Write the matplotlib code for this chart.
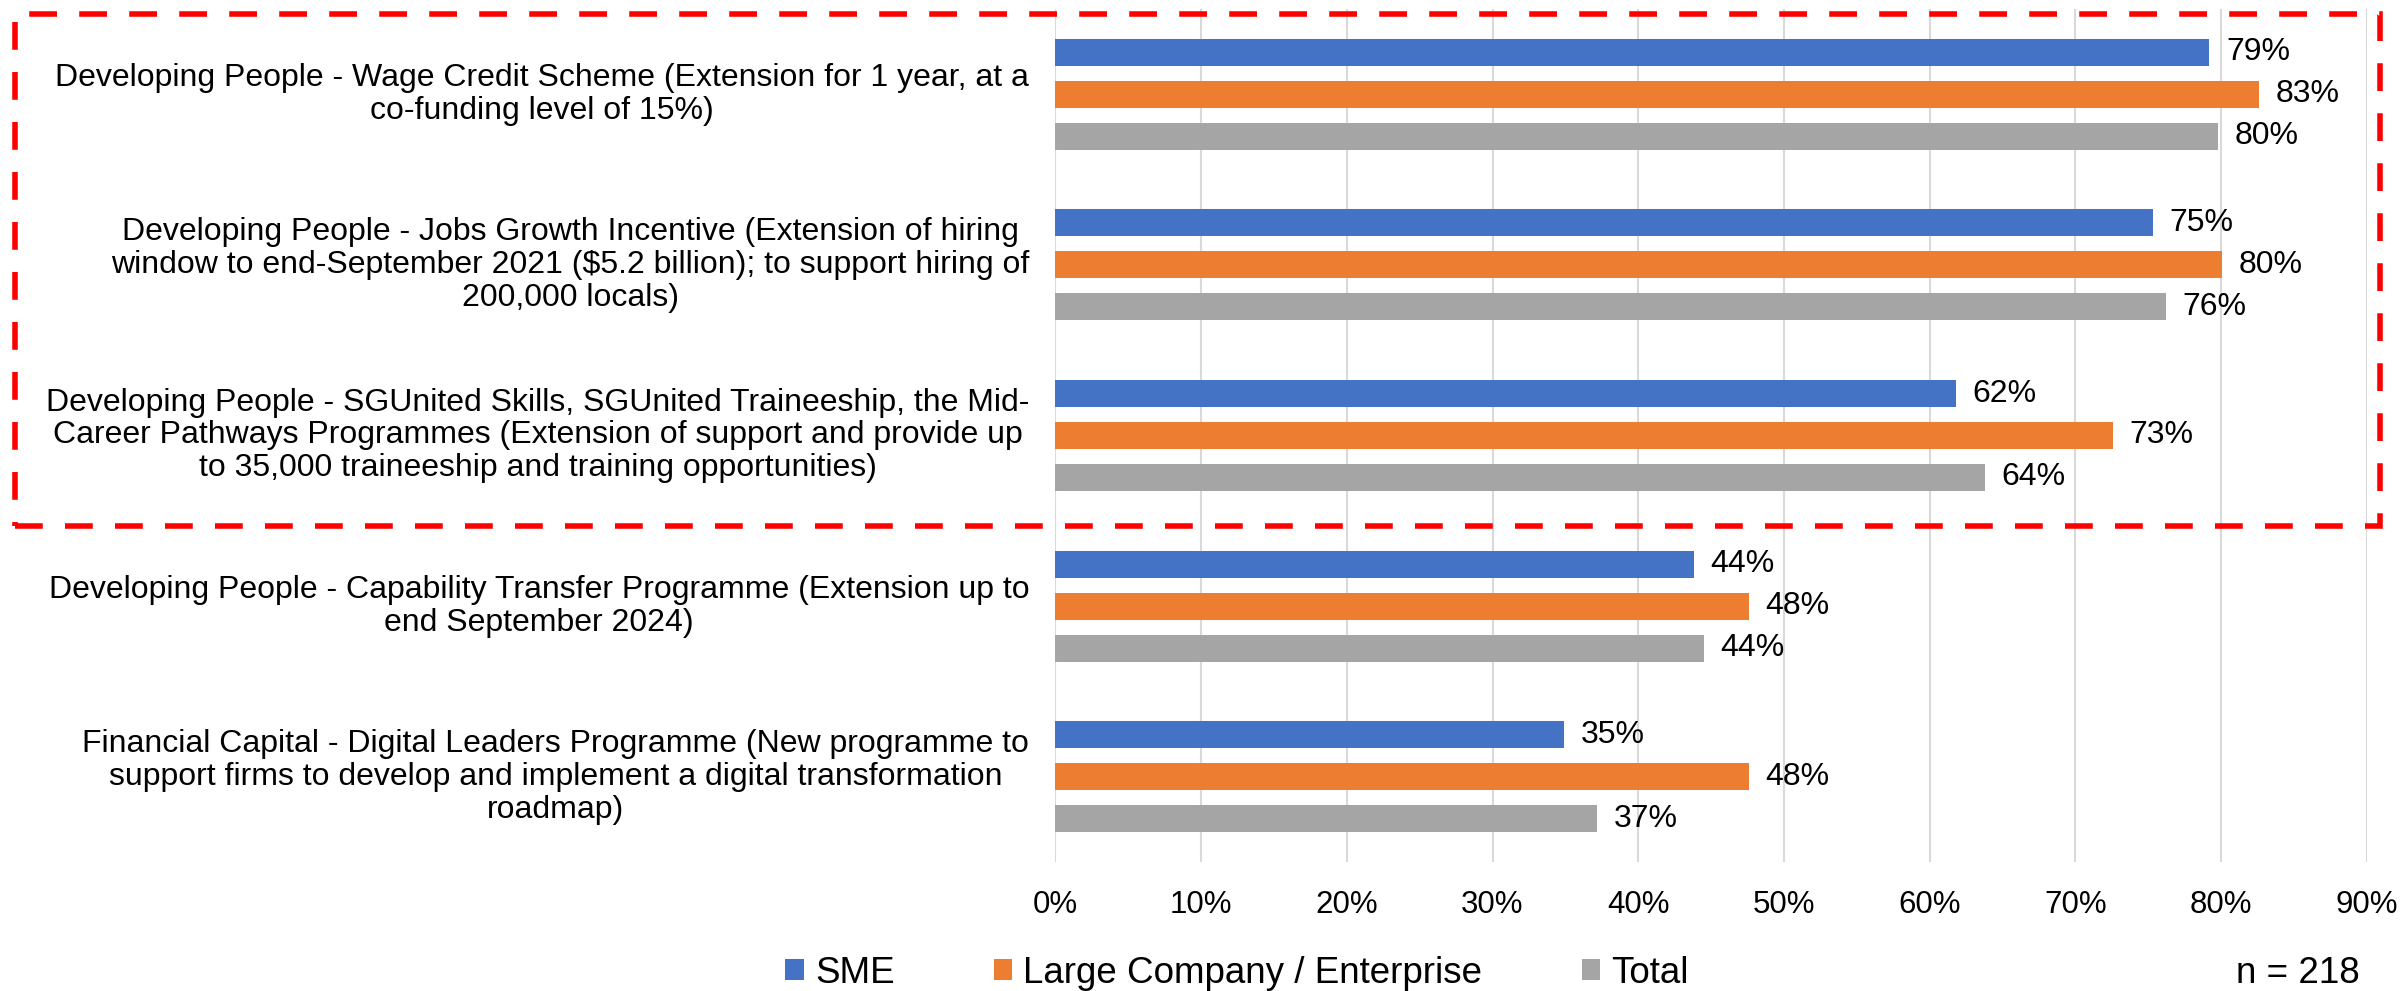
import matplotlib.pyplot as plt
import numpy as np
from matplotlib.patches import Rectangle, Patch

plt.rcParams['font.family'] = ['Liberation Sans', 'DejaVu Sans']

# ---------------- datos ----------------
categories = [
    "Developing People - Wage Credit Scheme (Extension for 1 year, at a\nco-funding level of 15%)",
    "Developing People - Jobs Growth Incentive (Extension of hiring\nwindow to end-September 2021 (\\$5.2 billion); to support hiring of\n200,000 locals)",
    "Developing People - SGUnited Skills, SGUnited Traineeship, the Mid-\nCareer Pathways Programmes (Extension of support and provide up\nto 35,000 traineeship and training opportunities)",
    "Developing People - Capability Transfer Programme (Extension up to\nend September 2024)",
    "Financial Capital - Digital Leaders Programme (New programme to\nsupport firms to develop and implement a digital transformation\nroadmap)",
]
sme = [0.792, 0.753, 0.618, 0.438, 0.349]
large = [0.826, 0.801, 0.726, 0.476, 0.476]
total = [0.798, 0.762, 0.638, 0.445, 0.372]

series_names = ['SME', 'Large Company / Enterprise', 'Total']
colors = ['#4472C4', '#ED7D31', '#A5A5A5']
xticks = [0, 0.1, 0.2, 0.3, 0.4, 0.5, 0.6, 0.7, 0.8, 0.9]
n_label = 'n = 218'

# ---------------- figura ----------------
fig = plt.figure(figsize=(24.02, 9.91), dpi=100)
ax = fig.add_axes([0.4394, 0.1302, 0.5459, 0.8607])

y = np.arange(len(categories))
offset = 0.246
bar_h = 0.158
for k, (vals, col) in enumerate(zip([sme, large, total], colors)):
    pos = y + (k - 1) * offset
    ax.barh(pos, vals, height=bar_h, color=col, zorder=3)
    for p, v in zip(pos, vals):
        ax.annotate(f"{v:.0%}", xy=(v, p), xytext=(12, 0), textcoords='offset points',
                    va='center', ha='left', fontsize=23, color='black')

ax.set_xlim(0, 0.9)
ax.set_ylim(len(categories) - 0.5, -0.5)
ax.set_xticks(xticks)
ax.set_xticklabels([f"{t:.0%}" for t in xticks], fontsize=22.5)
ax.tick_params(axis='x', length=0, pad=20)
ax.set_yticks([])
ax.grid(axis='x', color='#D9D9D9', linewidth=1.5, zorder=0)
for s in ax.spines.values():
    s.set_visible(False)

# etiquetas de categorías (centradas por líneas, alineadas a la derecha)
for i, cat in enumerate(categories):
    ax.text(-0.02, i, cat, transform=ax.get_yaxis_transform(), ha='right', va='center',
            multialignment='center', fontsize=23, linespacing=1.13)

# leyenda
handles = [Patch(facecolor=c, edgecolor='none') for c in colors]
fig.legend(handles, series_names, loc='center', bbox_to_anchor=(0.515, 0.018), ncol=3,
           frameon=False, fontsize=26.5, handlelength=0.5, handleheight=0.5,
           handletextpad=0.3, columnspacing=2.7, borderaxespad=0)
fig.text(0.9825, 0.018, n_label, ha='right', va='center', fontsize=26.5)

# recuadro punteado rojo sobre los tres primeros programas
box = Rectangle((0.00624, 0.4692), 0.9846, 0.5167, transform=fig.transFigure, fill=False,
                edgecolor='#FF0000', linewidth=4, linestyle=(0, (5, 4)), zorder=10)
fig.patches.append(box)

fig.savefig('out.png', dpi=100)
